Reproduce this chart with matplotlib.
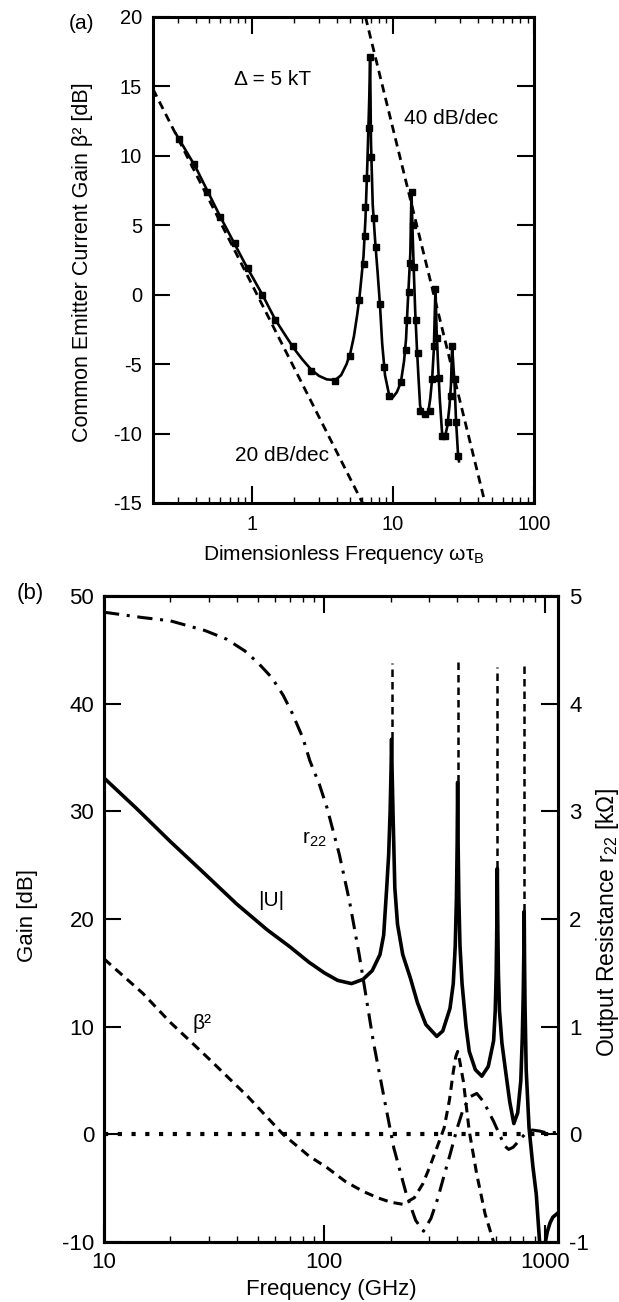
import matplotlib
matplotlib.use("Agg")
import matplotlib.pyplot as plt
from matplotlib.ticker import LogLocator, NullFormatter, FixedLocator

plt.rcParams['font.family'] = ['Liberation Sans', 'DejaVu Sans']
plt.rcParams['mathtext.fontset'] = 'custom'
plt.rcParams['mathtext.rm'] = 'Liberation Sans'
plt.rcParams['mathtext.it'] = 'Liberation Sans'
plt.rcParams['axes.unicode_minus'] = False

# ---- panel (a) data ----
# solid curve (theory)
wt_line = [0.29, 0.4, 0.6, 0.9, 1.19, 1.47, 1.75, 2.0, 2.3, 2.64, 3.0, 3.4, 3.9, 4.3, 4.7,
           5.0, 5.3, 5.6, 5.8, 6.0, 6.2, 6.4, 6.6, 6.8, 6.9, 7.0, 7.2, 7.5, 7.8, 8.1, 8.4,
           8.8, 9.4, 10.0, 10.7, 11.4, 12.0, 12.4, 12.7, 13.0, 13.3, 13.55, 13.8, 14.1, 14.4,
           14.8, 15.2, 15.6, 16.2, 17.0, 17.8, 18.4, 19.0, 19.5, 19.8, 20.05, 20.4, 20.9,
           21.5, 22.4, 23.3, 24.3, 25.2, 25.8, 26.3, 26.8, 27.4, 28.0, 29.0, 29.4]
beta2_line = [11.6, 9.2, 5.6, 2.2, 0.0, -1.8, -3.0, -3.9, -4.7, -5.4, -5.85, -6.1, -6.15,
              -5.8, -5.0, -4.2, -3.0, -1.4, -0.2, 1.3, 2.8, 5.5, 9.5, 14.0, 17.1, 11.0, 6.5,
              3.8, 1.6, -0.7, -3.5, -5.8, -7.2, -7.4, -7.0, -6.3, -4.8, -3.2, -1.0, 1.0, 3.0,
              7.4, 4.5, 1.5, -1.2, -3.8, -6.0, -8.0, -8.6, -8.7, -8.5, -7.5, -6.0, -4.0,
              -1.5, 0.5, -2.5, -5.0, -7.5, -10.2, -10.3, -9.5, -8.0, -6.5, -3.7, -5.0, -6.5,
              -9.0, -11.6, -12.0]
# square markers (numerical points)
wt_pts = [0.307, 0.389, 0.48, 0.60, 0.76, 0.94, 1.19, 1.47, 1.96, 2.64, 3.9, 5.0, 5.8,
          6.2, 6.3, 6.4, 6.5, 6.8, 6.9, 7.0, 7.3, 7.6, 8.1, 8.6, 9.4, 11.4, 12.3, 12.6,
          13.0, 13.3, 13.6, 13.9, 14.2, 14.6, 15.0, 15.6, 16.9, 18.2, 19.0, 19.6, 20.0,
          20.4, 21.3, 22.4, 23.3, 24.7, 25.7, 26.3, 27.4, 28.0, 29.0]
beta2_pts = [11.2, 9.4, 7.4, 5.6, 3.7, 1.9, 0.0, -1.8, -3.7, -5.5, -6.2, -4.4, -0.4,
             2.2, 4.2, 6.3, 8.4, 12.0, 17.1, 9.9, 5.5, 3.4, -0.7, -5.2, -7.3, -6.3, -4.0,
             -1.8, 0.2, 2.3, 7.4, 5.0, 2.0, -1.8, -4.2, -8.4, -8.6, -8.4, -6.1, -3.7, 0.4,
             -3.1, -6.0, -10.2, -10.2, -9.2, -7.3, -3.7, -6.1, -9.2, -11.6]
asym20_x = [0.2, 6.1]
asym20_y = [14.8, -15.0]
asym40_x = [6.4, 45.0]
asym40_y = [20.0, -15.0]

# ---- panel (b) data ----
f_u = [10, 14, 20, 28, 40, 55, 70, 85, 100, 115, 133, 150, 165, 179, 186, 192, 196, 199,
       201, 202, 203, 205, 209, 215, 227, 246, 265, 289, 324, 345, 372, 385, 393, 398, 401,
       403, 405, 408, 413, 422, 440, 455, 485, 519, 555, 587, 597, 603, 607, 610, 613, 617,
       624, 640, 664, 695, 725, 755, 780, 792, 800, 805, 808, 811, 815, 825, 850, 885, 917,
       949, 975, 1000, 1030, 1060, 1090, 1150]
u_db = [33.1, 30.3, 27.2, 24.4, 21.4, 19.0, 17.4, 16.0, 15.0, 14.3, 14.0, 14.4, 15.2, 16.7,
        18.5, 22.9, 26.0, 30.0, 34.0, 36.7, 34.0, 30.0, 22.9, 19.5, 16.7, 14.5, 12.2, 10.2,
        9.1, 9.6, 11.7, 14.0, 17.5, 22.0, 27.0, 32.7, 27.0, 22.0, 17.5, 14.0, 10.0, 7.7, 6.0,
        5.4, 6.3, 8.7, 11.5, 15.0, 19.5, 24.7, 19.5, 15.0, 11.5, 8.5, 6.0, 3.0, 1.0, 2.0,
        5.0, 9.0, 13.0, 17.0, 20.7, 16.0, 12.0, 6.0, 0.6, -3.0, -5.6, -10.0, -10.8, -10.4,
        -9.0, -8.2, -7.7, -7.3]
f_b2 = [10, 15, 20, 30, 45, 65, 85, 103, 125, 150, 175, 200, 227, 256, 280, 300, 325, 350,
        370, 385, 395, 403, 412, 428, 455, 492, 537, 587]
b2_db = [16.3, 13.1, 10.4, 7.0, 3.5, 0.0, -2.0, -3.1, -4.4, -5.3, -5.9, -6.3, -6.5, -5.9,
         -4.6, -3.1, -1.2, 0.6, 3.2, 5.8, 7.2, 7.7, 6.8, 4.9, 0.3, -3.7, -7.4, -10.0]
f_r22 = [10, 15, 20, 28.7, 36, 43.6, 50, 57.9, 65, 71.6, 80, 86, 95, 103, 117, 130, 144,
         150, 167, 188, 207, 236, 260, 282, 305, 328, 350, 372, 400, 428, 460, 492, 530,
         560, 587, 630, 660, 687, 720, 750, 780, 830, 880, 950, 1040, 1150]
r22_kohm = [4.85, 4.80, 4.77, 4.68, 4.60, 4.49, 4.38, 4.24, 4.08, 3.91, 3.68, 3.47, 3.25,
            3.03, 2.60, 2.17, 1.67, 1.45, 0.86, 0.31, -0.13, -0.56, -0.80, -0.90, -0.78,
            -0.59, -0.38, -0.19, 0.05, 0.24, 0.35, 0.38, 0.30, 0.20, 0.12, -0.02, -0.11,
            -0.14, -0.12, -0.08, -0.04, 0.02, 0.04, 0.03, 0.01, 0.02]
spike_f = [202, 403, 610, 808]
spike_top = [43.8, 44.0, 43.4, 43.6]
spike_bottom = [36.7, 32.7, 24.7, 20.7]
zero_f = [10, 1150]
zero_db = [0, 0]

fig = plt.figure(figsize=(6.19, 13.02), dpi=100)


def style(ax, size, pad):
    for s in ax.spines.values():
        s.set_linewidth(2.2)
    ax.tick_params(which='both', direction='in', top=True, right=True, width=1.5,
                   labelsize=size, pad=pad)
    ax.tick_params(which='major', length=12)
    ax.tick_params(which='minor', length=4, width=1)


# (a)
ax1 = fig.add_axes([0.2472, 0.6137, 0.6155, 0.3733])
ax1.plot(asym20_x, asym20_y, color='black', lw=2, ls=(0, (3, 2)))
ax1.plot(asym40_x, asym40_y, color='black', lw=2, ls=(0, (3, 2)))
ax1.plot(wt_line, beta2_line, color='black', lw=1.9)
ax1.plot(wt_pts, beta2_pts, ls='none', color='black', marker='s', ms=3.8)
ax1.set_xscale('log')
ax1.set_xlim(0.2, 100)
ax1.set_ylim(-15, 20)
ax1.set_yticks([-15, -10, -5, 0, 5, 10, 15, 20])
ax1.xaxis.set_major_locator(FixedLocator([1, 10, 100]))
ax1.set_xticklabels(['1', '10', '100'])
ax1.xaxis.set_minor_locator(LogLocator(base=10, subs=range(2, 10)))
ax1.xaxis.set_minor_formatter(NullFormatter())
style(ax1, 14.5, 8)
ax1.tick_params(axis='x', pad=9)
ax1.set_xlabel(r'Dimensionless Frequency ωτ$_\mathrm{B}$', fontsize=15)
ax1.xaxis.set_label_coords(0.5, -0.082)
ax1.set_ylabel('Common Emitter Current Gain β² [dB]', fontsize=15.5)
ax1.yaxis.set_label_coords(-0.157, 0.496)
ax1.text(0.75, 15.5, 'Δ = 5 kT', fontsize=15, va='center')
ax1.text(11.9, 12.7, '40 dB/dec', fontsize=15, va='center')
ax1.text(0.76, -11.6, '20 dB/dec', fontsize=15, va='center')
fig.text(0.132, 0.982, '(a)', fontsize=15, ha='center', va='center')

# (b)
ax2 = fig.add_axes([0.168, 0.0461, 0.7334, 0.4961])
ax2.plot(zero_f, zero_db, color='black', lw=3, ls=(0, (1, 2.3)), dash_capstyle='butt')
ax2.plot(f_b2, b2_db, color='black', lw=2.2, ls=(0, (3, 2)))
ax2.plot(f_u, u_db, color='black', lw=2.6)
for f, lo, hi in zip(spike_f, spike_bottom, spike_top):
    ax2.plot([f, f], [lo, hi], color='black', lw=1.8, ls=(0, (3, 2)))
ax2.set_xscale('log')
ax2.set_xlim(10, 1150)
ax2.set_ylim(-10, 50)
ax2.set_yticks([-10, 0, 10, 20, 30, 40, 50])
ax2.xaxis.set_major_locator(FixedLocator([10, 100, 1000]))
ax2.set_xticklabels(['10', '100', '1000'])
ax2.xaxis.set_minor_locator(LogLocator(base=10, subs=range(2, 10)))
ax2.xaxis.set_minor_formatter(NullFormatter())
style(ax2, 16, 7)
ax2.tick_params(which='both', right=False)
ax2.set_xlabel('Frequency (GHz)', fontsize=16)
ax2.xaxis.set_label_coords(0.5, -0.058)
ax2.set_ylabel('Gain [dB]', fontsize=16)
ax2.yaxis.set_label_coords(-0.145, 0.506)
ax2.text(25.3, 10.3, 'β²', fontsize=15, va='center')
ax2.text(50, 21.7, '|U|', fontsize=15, va='center')
ax2.text(79, 27.4, r'r$_{22}$', fontsize=15, va='center')
fig.text(0.0485, 0.5445, '(b)', fontsize=16, ha='center', va='center')

ax3 = ax2.twinx()
ax3.plot(f_r22, r22_kohm, color='black', lw=2.2, ls=(0, (5, 2.5, 1, 2.5)))
ax3.set_ylim(-1, 5)
ax3.set_yticks([-1, 0, 1, 2, 3, 4, 5])
for s in ax3.spines.values():
    s.set_linewidth(2.2)
ax3.tick_params(direction='in', length=12, width=1.5, labelsize=16, pad=8)
ax3.set_ylabel(r'Output Resistance r$_{22}$ [kΩ]', fontsize=16.5)
ax3.yaxis.set_label_coords(1.079, 0.495)

fig.savefig('out.png', dpi=100)
